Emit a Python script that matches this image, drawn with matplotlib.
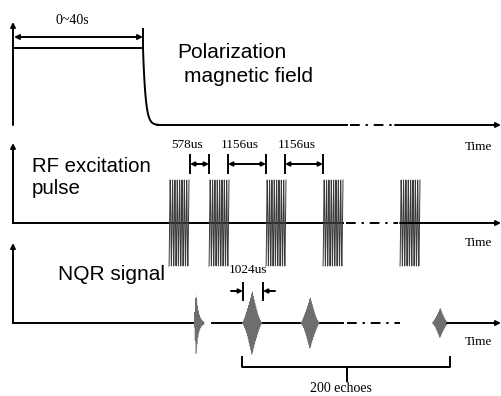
import numpy as np
import matplotlib.pyplot as plt

# pulse sequence schematic (pixel coordinates of the original figure)
pulse_x = [179, 219, 276, 333, 410]          # RF pulse centres
pulse_w = 20
pulse_amp = 43
echo_x = [199, 252, 310, 440]                # echo centres
echo_amp = [31, 32, 26, 15]
echo_w = [10, 20, 19, 16]
gap_labels = ["578us", "1156us", "1156us"]
gap_spans = [(190, 209), (228, 266), (285, 323)]
gap_label_x = [187, 240, 297]
echo_gap_label = "1024us"
echo_gap_span = (243, 263)
n_echoes_label = "200 echoes"
polar_label = "0~40s"

serif = "Liberation Serif"
sans = "Liberation Sans"
k = "black"
lw = 1.4

base = [125, 223, 323]
axis_top = [22, 143, 243]
x0, x_end = 13, 501


def arrow(ax, start, end, style="-|>", ms=8):
    ax.annotate("", xy=end, xytext=start,
                arrowprops=dict(arrowstyle=style, color=k, lw=lw,
                                mutation_scale=ms, shrinkA=0, shrinkB=0))


def dashdot(ax, y, xa, xb):
    ax.plot([xa, xb], [y, y], color=k, lw=lw, linestyle=(0, (5, 3, 1.2, 3)))


fig = plt.figure(figsize=(5.02, 3.96), dpi=100)
ax = fig.add_axes([0, 0, 1, 1])
ax.set_xlim(0, 502)
ax.set_ylim(396, 0)
ax.axis("off")

# y axes
for b, t in zip(base, axis_top):
    arrow(ax, (x0, b), (x0, t), ms=7)

# ---- panel 1: polarization field
ax.plot([x0, 143], [48, 48], color=k, lw=lw)
xd = np.linspace(143, 158, 80)
yd = base[0] - (base[0] - 48) * np.exp(-(xd - 143) / 2.6)
ax.plot(xd, yd, color=k, lw=lw)
ax.plot([143, 143], [29, 48], color=k, lw=lw)
arrow(ax, (x0 + 1, 37), (143, 37), style="<|-|>", ms=7)
ax.text(72, 20, polar_label, family=serif, fontsize=10, ha="center", va="center")
ax.plot([157, 347], [base[0]] * 2, color=k, lw=lw)
dashdot(ax, base[0], 350, 392)
arrow(ax, (395, base[0]), (x_end, base[0]), ms=7)
ax.text(177, 52, "Polarization", family=sans, fontsize=15, va="center")
ax.text(184, 77, "magnetic field", family=sans, fontsize=15, va="center")

# ---- panel 2: RF pulses
ax.plot([x0, 343], [base[1]] * 2, color=k, lw=lw)
dashdot(ax, base[1], 346, 398)
arrow(ax, (400, base[1]), (x_end, base[1]), ms=7)
for cx in pulse_x:
    t = np.linspace(-pulse_w / 2, pulse_w / 2, 600)
    y = base[1] - pulse_amp * np.sin(2 * np.pi * t * 8.5 / pulse_w)
    ax.plot(cx + t, y, color="#3a3a3a", lw=0.7)
for lab, (a, b), lx in zip(gap_labels, gap_spans, gap_label_x):
    arrow(ax, (a, 164), (b, 164), style="<|-|>", ms=6)
    ax.plot([a, a], [155, 173], color=k, lw=lw)
    ax.plot([b, b], [155, 173], color=k, lw=lw)
    ax.text(lx, 145, lab, family=serif, fontsize=9.5, ha="center", va="center")
ax.text(32, 167, "RF excitation", family=sans, fontsize=14.7, va="center")
ax.text(32, 189, "pulse", family=sans, fontsize=14.7, va="center")

# ---- panel 3: NQR echoes
ax.plot([x0, 196], [base[2]] * 2, color=k, lw=lw)
ax.plot([212, 343], [base[2]] * 2, color=k, lw=lw)
dashdot(ax, base[2], 347, 400)
arrow(ax, (447, base[2]), (x_end, base[2]), ms=7)
for i, (cx, a, w) in enumerate(zip(echo_x, echo_amp, echo_w)):
    t = np.linspace(-w / 2, w / 2, 600)
    if i == 0:
        env = np.where(t < -w / 2 + 2, (t + w / 2) / 2, np.exp(-(t + w / 2 - 2) / 2.4))
    else:
        env = np.clip(1 - np.abs(t) / (w / 2), 0, 1) ** 1.4
    ax.fill_between(cx + t, base[2] - a * env, base[2] + a * env, color="#d0d0d0", lw=0)
    y = base[2] - a * env * np.sin(2 * np.pi * t * 1.1)
    ax.plot(cx + t, y, color="#6e6e6e", lw=0.45)
ea, eb = echo_gap_span
ax.plot([ea, ea], [283, 300], color=k, lw=lw)
ax.plot([eb, eb], [283, 300], color=k, lw=lw)
arrow(ax, (ea - 12, 291), (ea, 291), ms=6)
arrow(ax, (eb + 12, 291), (eb, 291), ms=6)
ax.text(248, 270, echo_gap_label, family=serif, fontsize=9.5, ha="center", va="center")
ax.text(58, 275, "NQR signal", family=sans, fontsize=15, va="center")

# brace for the echo train
ax.plot([242, 242, 450, 450], [357, 367, 367, 357], color=k, lw=lw)
ax.plot([347, 347], [367, 381], color=k, lw=lw)
ax.text(341, 389, n_echoes_label, family=serif, fontsize=10, ha="center", va="center")

for ty in [147, 243, 342]:
    ax.text(479, ty, "Time", family=serif, fontsize=9.5, ha="center", va="center")

fig.savefig("out.png", dpi=100)
